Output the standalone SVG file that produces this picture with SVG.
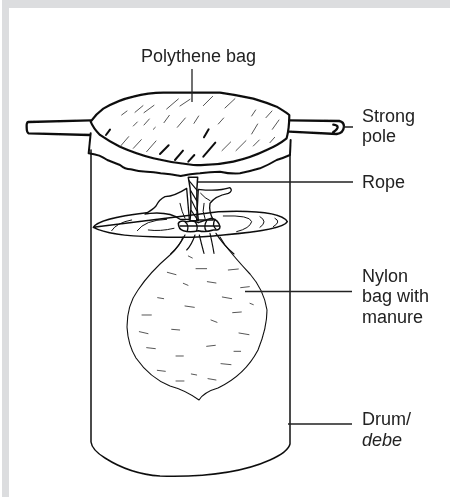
<svg xmlns="http://www.w3.org/2000/svg" width="450" height="497" viewBox="0 0 450 497">
<defs><filter id="soft" x="-5%" y="-5%" width="110%" height="110%"><feGaussianBlur stdDeviation="0.35"/></filter></defs>
<style>
text{font-family:"Liberation Sans",Arial,sans-serif;font-size:18px;fill:#222}
.o{fill:none;stroke:#111;stroke-linecap:round;stroke-linejoin:round}
.l{fill:none;stroke:#222;stroke-width:1.3}
.h{fill:none;stroke:#555;stroke-linecap:round}
</style>
<rect width="450" height="497" fill="#fff"/>
<path d="M2 0H450V8H9V497H2Z" fill="#dcdddf"/>
<g filter="url(#soft)">
<g id="drum"><path class="o" stroke-width="1.5" d="M91 150V442Q92 450 105 458Q130 474 160 476Q230 478 270 460Q288 452 290 444V155"/></g>
<g id="disk" transform="translate(20 40) scale(.3333)"><path class="o" stroke-width="4.500" d="M220 562Q235 535 380 518M595 515Q780 508 802 545Q790 570 610 585Q520 596 400 590Q270 588 220 562Z"/>
<path class="o" stroke-width="3" d="M275 572Q290 548 335 540M352 572Q375 540 440 538M385 570Q420 575 462 565M610 528Q690 525 695 545Q690 565 650 575M720 530Q745 545 720 562M765 535Q785 545 760 560"/></g>
<g id="bag"><path class="o" stroke-width="1.100" d="M183 237Q180 246 170 255Q150 272 138 290Q127 305 127 327Q128 345 136 358Q150 378 170 386Q185 390 199 400Q204 392 218 388Q245 375 258 350Q267 328 267 310Q264 290 250 274Q235 258 225 245L220 237"/>
<g transform="translate(130 170) scale(.3333)"><path class="o" stroke-width="3.500" d="M165 195Q150 225 122 252M195 195Q185 225 170 240M208 195Q215 225 222 250M240 190Q248 225 252 250M258 190Q280 225 312 252"/></g>
<g transform="translate(80 230) scale(.3333)"><path class="h" stroke-width="3" d="M325 78l12 6M348 116h32M445 120l30-3M262 127l26 7M310 160l14 6M382 155l26 4M482 173l26-3M233 203l18 3M315 228l28 4M427 201l28 5M510 220l10 4M186 255h28M458 248l26-2M393 270l18 7M275 298l24 2M178 305l26 6M477 309l30 5M200 353l26 3M380 349l26-3M462 364h20M288 378h22M423 401l30 3M232 421l24 3M334 432l16 3M384 446l24 4M288 453h24"/></g></g>
<g id="cloth" transform="translate(130 170) scale(.3333)"><path class="o" stroke-width="4" fill="#fff" d="M45 132Q70 118 78 108Q88 88 105 80Q135 78 170 55L178 148H150Q120 125 60 130Z"/>
<path class="o" fill="#fff" stroke-width="4" d="M205 58Q265 65 300 53Q310 62 295 70Q255 78 240 100Q236 125 250 150H200Z"/>
<path class="o" stroke-width="3" d="M150 100Q155 125 165 145M212 70Q225 85 240 92M222 100Q215 125 225 146"/></g>
<g id="knot" transform="translate(130 170) scale(.3333)"><path class="o" stroke-width="4.500" fill="#fff" d="M145 160Q150 150 170 155Q190 150 205 158Q225 150 245 145Q265 150 270 170Q270 182 250 180Q225 188 205 182Q180 188 160 182Q145 178 145 160Z"/>
<path class="o" stroke-width="4" d="M165 155Q178 165 172 182M195 155Q205 168 200 182M230 152Q220 170 228 182M255 148Q245 165 258 178M150 168H268"/></g>
<g id="rope" transform="translate(130 170) scale(.3333)"><path class="o" stroke-width="4.500" fill="#fff" d="M175 22Q188 85 180 152H205Q197 85 203 22Z"/><path class="o" stroke-width="3.500" d="M177 32L202 62M182 62L200 92M185 92L200 122M184 122L203 150"/></g>
<g id="cover" transform="translate(20 40) scale(.3333)"><path class="o" fill="#fff" stroke-width="6" d="M212 280L206 340Q222 342 238 347Q250 352 262 360Q282 368 300 375Q315 388 332 388Q355 395 380 395Q402 396 422 400Q450 402 482 408Q510 402 540 400Q570 396 600 395Q630 402 660 400Q690 394 720 385Q745 375 770 360Q790 354 810 345L812 300"/></g>
<g id="pole-left" transform="translate(20 40) scale(.3333)"><path class="o" stroke-width="7" d="M212 241L25 246Q19 247 20 262Q20 278 26 280L210 285"/></g>
<g id="pole-right" transform="translate(20 40) scale(.3333)"><path class="o" stroke-width="7" d="M808 241L958 243Q972 246 972 260Q970 280 950 282L808 275M940 254Q966 258 940 276"/></g>
<g id="lid" transform="translate(20 40) scale(.3333)"><path class="o" fill="#fff" stroke-width="6.500" d="M212 245Q228 222 250 206Q295 180 340 170Q385 158 430 158H600Q650 165 700 176Q740 188 770 200Q795 215 808 225Q808 265 800 295Q775 315 740 330Q695 352 640 365Q580 378 520 375Q460 370 400 355Q345 340 300 320Q265 303 240 285Q220 265 212 245Z"/>
<path class="h" stroke-width="3" d="M305 225l16-12M345 217l24-20M372 218l30-22M440 207l35-30M480 198l30-20M550 197l28-28M615 204l30-28M695 228l12-18M738 233l18-20M340 258l12-12M372 255l16-18M400 268l6-6M432 248l16-22M472 262l24-28M522 250l14-22M595 252l16-18M695 282l18-30M757 268l20-28M302 318l24-28M340 325l24-26M380 335l28-32M648 332l30-30M700 318l18-18M750 308l14-16M606 332l26-26"/><path class="o" stroke-width="6" d="M258 285l12-16M420 342l26-26M465 360l24-28M505 365l18-20M550 350l36-42M552 292l14-24"/></g>
<g id="connectors"><path class="l" d="M192 69V102M198 182H353M245 291.500H352M288 424H352M343 127H353"/></g>
<g id="labels">
<text x="141" y="62">Polythene bag</text>
<text x="362" y="122">Strong</text><text x="362" y="142">pole</text>
<text x="362" y="188">Rope</text>
<text x="362" y="282">Nylon</text><text x="362" y="302">bag with</text><text x="362" y="323">manure</text>
<text x="362" y="425">Drum/</text><text x="362" y="446" font-style="italic">debe</text>
</g>
</g>
</svg>
